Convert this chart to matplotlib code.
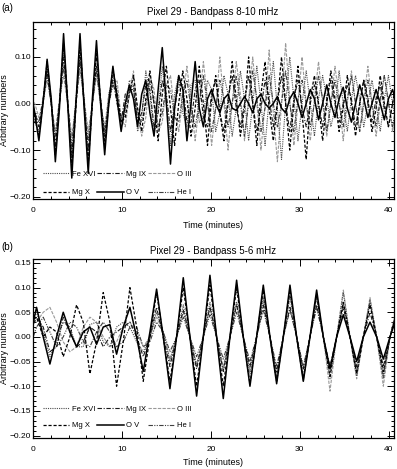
import numpy as np
import matplotlib
matplotlib.use("Agg")
import matplotlib.pyplot as plt
from matplotlib.ticker import MultipleLocator, FuncFormatter

# ---------------- data ----------------
# regular sampling grids (minutes)
time_a = np.round(np.arange(90) * 0.4625 - 0.2625, 4)
time_b = np.round(np.arange(56) * 0.75 - 0.35, 4)

# Panel (a): Pixel 29 - Bandpass 8-10 mHz
fe16_a = [0.00, -0.04, -0.06, 0.01,
          0.080, 0.01, -0.100, 0.00,
          0.120, 0.00, -0.120, 0.00,
          0.120, 0.01, -0.120, 0.00,
          0.100, 0.00, -0.080, 0.02,
          0.060, 0.03, -0.050, -0.02,
          0.050, 0.04, -0.060, -0.03,
          0.070, 0.02, -0.070, -0.01,
          0.080, 0.00, -0.090, 0.02,
          0.060, -0.02, -0.050, 0.04,
          0.050, -0.04, -0.030, 0.05,
          0.030, -0.06, -0.020, 0.06,
          0.020, -0.07, -0.010, 0.07,
          0.010, -0.08, 0.000, 0.08,
          0.000, -0.09, 0.010, 0.09,
          -0.010, -0.12, 0.000, 0.10,
          0.010, -0.08, 0.000, 0.07,
          0.000, -0.07, 0.010, 0.06,
          0.010, -0.05, -0.010, 0.07,
          0.000, -0.06, 0.010, 0.06,
          0.010, -0.05, 0.000, 0.05,
          0.000, -0.06, 0.010, 0.06,
          0.000, -0.05]
mg9_a = [0.01, -0.02, -0.05, 0.00,
         0.070, 0.00, -0.090, 0.00,
         0.100, 0.00, -0.110, 0.00,
         0.100, 0.00, -0.100, 0.00,
         0.080, 0.01, -0.070, 0.00,
         0.050, 0.00, -0.040, 0.02,
         0.030, 0.03, -0.040, -0.02,
         0.040, 0.03, -0.050, -0.02,
         0.050, 0.02, -0.060, -0.01,
         0.040, 0.04, -0.040, -0.04,
         0.030, 0.05, -0.030, -0.05,
         0.020, 0.05, -0.020, -0.06,
         0.010, 0.06, -0.010, -0.05,
         0.000, 0.06, 0.000, -0.06,
         -0.010, 0.05, 0.010, -0.05,
         0.000, 0.06, 0.000, -0.06,
         0.010, 0.05, -0.010, -0.05,
         0.000, 0.04, 0.000, -0.05,
         0.010, 0.05, 0.000, -0.04,
         0.000, 0.04, 0.010, -0.05,
         0.000, 0.05, 0.000, -0.04,
         0.010, 0.04, -0.010, -0.05,
         0.000, 0.04]
o3_a = [0.01, 0.00, -0.03, 0.00,
        0.050, 0.00, -0.060, 0.01,
        0.060, 0.00, -0.070, 0.00,
        0.070, 0.01, -0.060, 0.00,
        0.060, 0.00, -0.050, 0.02,
        0.040, 0.05, -0.030, -0.05,
        0.020, 0.07, -0.020, -0.07,
        -0.030, 0.06, 0.030, -0.06,
        -0.040, 0.04, 0.060, -0.02,
        -0.060, 0.01, 0.080, 0.00,
        -0.080, 0.00, 0.090, 0.01,
        -0.090, -0.01, 0.100, 0.00,
        -0.100, 0.00, 0.090, 0.02,
        -0.080, 0.01, 0.100, 0.00,
        -0.100, 0.00, 0.115, -0.02,
        -0.125, 0.00, 0.130, 0.01,
        -0.090, 0.00, 0.100, 0.00,
        -0.080, 0.01, 0.090, 0.00,
        -0.070, 0.00, 0.080, 0.01,
        -0.080, 0.00, 0.070, 0.00,
        -0.060, 0.01, 0.080, 0.00,
        -0.070, 0.00, 0.060, 0.01,
        -0.060, 0.00]
mg10_a = [0.02, -0.03, -0.07, 0.00,
          0.090, 0.00, -0.110, 0.00,
          0.130, 0.01, -0.140, -0.01,
          0.130, 0.00, -0.130, 0.00,
          0.110, 0.01, -0.090, 0.00,
          0.075, 0.02, -0.040, -0.03,
          0.020, 0.060, -0.010, -0.060,
          0.010, 0.070, 0.000, -0.080,
          0.020, 0.080, -0.010, -0.090,
          0.000, 0.070, 0.010, -0.070,
          -0.010, 0.080, 0.000, -0.090,
          0.010, 0.060, -0.020, -0.080,
          0.000, 0.090, 0.010, -0.070,
          -0.010, 0.100, 0.000, -0.090,
          0.020, 0.090, -0.010, -0.080,
          0.000, 0.100, 0.000, -0.100,
          0.000, 0.080, -0.020, -0.120,
          0.010, 0.060, 0.000, -0.080,
          0.000, 0.070, 0.010, -0.060,
          -0.010, 0.060, 0.000, -0.070,
          0.000, 0.050, 0.010, -0.060,
          -0.010, 0.060, 0.000, -0.050,
          0.000, 0.050]
o5_a = [0.03, -0.02, -0.08, 0.00,
        0.095, 0.01, -0.125, -0.01,
        0.150, 0.00, -0.160, 0.00,
        0.150, -0.01, -0.150, 0.01,
        0.135, 0.00, -0.110, 0.00,
        0.080, 0.01, -0.060, 0.00,
        0.040, 0.01, -0.050, 0.02,
        0.050, -0.02, -0.070, 0.03,
        0.120, 0.00, -0.130, -0.01,
        0.060, 0.03, -0.080, 0.00,
        0.090, -0.01, -0.050, 0.01,
        0.030, 0.00, -0.020, 0.01,
        0.020, -0.01, -0.015, 0.00,
        0.015, 0.00, -0.020, 0.01,
        0.020, 0.00, -0.010, 0.00,
        0.015, -0.01, -0.020, 0.01,
        0.025, 0.00, -0.030, 0.00,
        0.030, 0.01, -0.035, 0.00,
        0.040, 0.00, -0.030, 0.01,
        0.035, -0.01, -0.040, 0.00,
        0.040, 0.01, -0.030, 0.00,
        0.030, 0.00, -0.035, 0.01,
        0.030, 0.00]
he1_a = [0.00, -0.02, -0.04, 0.01,
         0.060, 0.00, -0.070, 0.00,
         0.080, 0.00, -0.090, 0.01,
         0.090, 0.00, -0.080, 0.00,
         0.070, 0.00, -0.060, 0.00,
         0.040, 0.02, -0.030, -0.01,
         0.030, 0.04, -0.030, -0.04,
         0.000, 0.05, 0.000, -0.05,
         -0.020, 0.04, 0.030, -0.03,
         -0.040, 0.02, 0.050, -0.01,
         -0.050, 0.00, 0.060, 0.00,
         -0.060, -0.01, 0.050, 0.01,
         -0.050, 0.00, 0.060, 0.00,
         -0.070, 0.00, 0.070, 0.01,
         -0.060, -0.01, 0.060, 0.00,
         -0.050, 0.00, 0.070, 0.00,
         -0.060, 0.01, 0.050, 0.00,
         -0.050, 0.00, 0.060, 0.01,
         -0.060, 0.00, 0.050, 0.00,
         -0.050, 0.01, 0.060, 0.00,
         -0.060, 0.00, 0.050, 0.00,
         -0.050, 0.01, 0.060, 0.00,
         -0.050, 0.00]

# Panel (b): Pixel 29 - Bandpass 5-6 mHz
fe16_b = [0.02, 0.05, 0.01, -0.04, -0.01, 0.03, 0.02, -0.02,
          -0.02, 0.025, 0.03, -0.01, -0.02, 0.02, 0.03, 0.02,
          -0.01, -0.03, 0.00, 0.05, 0.01, -0.05, 0.00, 0.065,
          0.00, -0.06, 0.00, 0.07, 0.00, -0.07, 0.00, 0.07,
          0.00, -0.075, 0.00, 0.08, 0.00, -0.08, 0.00, 0.085,
          0.00, -0.08, 0.00, 0.08, 0.00, -0.085, 0.00, 0.09,
          0.00, -0.08, 0.00, 0.075, 0.00, -0.085, 0.00, 0.05]
mg9_b = [0.01, 0.04, 0.02, -0.03, -0.02, 0.04, 0.01, -0.02,
         -0.01, 0.02, 0.01, -0.02, 0.00, 0.01, 0.02, 0.03,
         0.00, -0.04, 0.00, 0.06, 0.00, -0.06, 0.00, 0.055,
         0.00, -0.065, 0.00, 0.06, 0.00, -0.07, 0.00, 0.065,
         0.00, -0.06, 0.00, 0.065, 0.00, -0.07, 0.00, 0.06,
         0.00, -0.065, 0.00, 0.065, 0.00, -0.06, 0.00, 0.06,
         0.00, -0.06, 0.00, 0.05, 0.00, -0.06, 0.00, 0.045]
o3_b = [0.04, 0.03, 0.05, 0.06, 0.03, -0.01, -0.03, -0.02,
        0.02, 0.04, 0.03, 0.00, -0.02, -0.01, 0.02, 0.03,
        0.01, -0.02, 0.00, 0.04, 0.01, -0.045, 0.00, 0.05,
        0.00, -0.055, 0.00, 0.06, 0.00, -0.06, 0.00, 0.07,
        0.00, -0.07, 0.00, 0.075, 0.00, -0.08, 0.00, 0.08,
        0.00, -0.09, 0.00, 0.085, 0.00, -0.11, 0.00, 0.095,
        0.00, -0.085, 0.00, 0.08, 0.00, -0.10, 0.00, 0.06]
mg10_b = [0.03, 0.04, 0.00, 0.02, 0.01, -0.04, 0.00, 0.065,
          0.03, -0.075, -0.01, 0.09, 0.03, -0.10, -0.01, 0.10,
          0.02, -0.09, 0.00, 0.09, 0.00, -0.09, 0.00, 0.10,
          0.00, -0.10, 0.00, 0.105, 0.00, -0.10, 0.00, 0.10,
          0.00, -0.095, 0.00, 0.095, 0.00, -0.09, 0.00, 0.095,
          0.00, -0.085, 0.00, 0.085, 0.00, -0.08, 0.00, 0.07,
          0.00, -0.075, 0.00, 0.065, 0.00, -0.07, 0.00, 0.05]
o5_b = [0.00, 0.060, 0.00, -0.055, 0.00, 0.050, 0.01, -0.020,
        0.01, 0.020, -0.015, 0.020, 0.025, -0.035, 0.020, 0.060,
        0.00, -0.070, 0.01, 0.097, 0.00, -0.105, 0.00, 0.120,
        0.00, -0.120, 0.00, 0.125, 0.00, -0.125, 0.00, 0.115,
        0.00, -0.100, 0.00, 0.105, 0.00, -0.095, 0.00, 0.105,
        0.00, -0.090, 0.00, 0.095, 0.00, -0.065, 0.00, 0.045,
        0.00, -0.050, 0.00, 0.030, 0.00, -0.045, 0.00, 0.040]
he1_b = [-0.02, 0.02, 0.04, 0.01, -0.02, 0.00, 0.03, 0.02,
         -0.01, -0.02, 0.01, 0.03, 0.01, -0.02, -0.01, 0.02,
         0.02, -0.02, -0.01, 0.03, 0.01, -0.03, 0.00, 0.04,
         0.00, -0.04, 0.00, 0.045, 0.00, -0.045, 0.00, 0.05,
         0.00, -0.05, 0.00, 0.055, 0.00, -0.06, 0.00, 0.055,
         0.00, -0.06, 0.00, 0.06, 0.00, -0.065, 0.00, 0.07,
         0.00, -0.07, 0.00, 0.07, 0.00, -0.08, 0.00, 0.055]

ions = ['Fe XVI', 'Mg IX', 'O III', 'Mg X', 'O V', 'He I']
series_a = [fe16_a, mg9_a, o3_a, mg10_a, o5_a, he1_a]
series_b = [fe16_b, mg9_b, o3_b, mg10_b, o5_b, he1_b]
titles = ['Pixel 29 - Bandpass 8-10 mHz', 'Pixel 29 - Bandpass 5-6 mHz']
panel_tags = ['(a)', '(b)']
x_ticks = [0, 10, 20, 30, 40]

# ---------------- style ----------------
styles = {
    'Fe XVI': dict(color='0.30', ls=(0, (1, 1)), lw=0.8),
    'Mg IX': dict(color='0.10', ls=(0, (4, 1.5, 1, 1.5)), lw=0.8),
    'O III': dict(color='0.60', ls=(0, (3, 1.2)), lw=0.8),
    'Mg X': dict(color='black', ls=(0, (2.5, 1.5)), lw=0.9),
    'O V': dict(color='black', ls='-', lw=1.1),
    'He I': dict(color='0.25', ls=(0, (4, 1.2, 1, 1.2, 1, 1.2)), lw=0.8),
}
draw_order = ['O III', 'Fe XVI', 'He I', 'Mg IX', 'Mg X', 'O V']

plt.rcParams['font.family'] = ['Liberation Sans', 'DejaVu Sans']
FS_TICK = 6.0
FS_LEG = 5.5
FS_TXT = 6.5
FS_TITLE = 7.0

W, H = 397, 469
fig = plt.figure(figsize=(W / 100, H / 100), dpi=100)

ax_a = fig.add_axes([33 / W, 1 - 199 / H, 361 / W, 177 / H])
ax_b = fig.add_axes([33 / W, 1 - 438 / H, 361 / W, 179 / H])


def yfmt(v, p):
    s = f"{v:.2f}"
    if s == "-0.00":
        s = "0.00"
    return s.replace('-', '\u2212')


panels = [
    (ax_a, time_a, series_a, (-0.205, 0.175), 0.10, 0.02, 0.015, 1.5),
    (ax_b, time_b, series_b, (-0.205, 0.158), 0.05, 0.01, 0.048, 1.2),
]
legend_cols = [['Fe XVI', 'Mg X'], ['Mg IX', 'O V'], ['O III', 'He I']]
legend_x = [0.027, 0.177, 0.319]

for ax, t, series, ylim, ymaj, ymin, leg_y, lspace in panels:
    handles = {}
    data = dict(zip(ions, series))
    for name in draw_order:
        vals = np.asarray(data[name])
        assert len(vals) == len(t)
        (ln,) = ax.plot(t, vals, label=name, **styles[name])
        handles[name] = ln
    ax.set_xlim(0, 40.6)
    ax.set_ylim(*ylim)
    ax.set_xticks(x_ticks)
    ax.xaxis.set_minor_locator(MultipleLocator(2))
    ax.yaxis.set_major_locator(MultipleLocator(ymaj))
    ax.yaxis.set_minor_locator(MultipleLocator(ymin))
    ax.yaxis.set_major_formatter(FuncFormatter(yfmt))
    ax.tick_params(which='both', direction='in', top=True, right=True,
                   labelsize=FS_TICK, width=0.7)
    ax.tick_params(which='major', length=5)
    ax.tick_params(which='minor', length=2.5)
    ax.tick_params(axis='x', pad=6)
    ax.tick_params(axis='y', pad=1.5)
    for sp in ax.spines.values():
        sp.set_linewidth(0.9)
    for i, (col, lx) in enumerate(zip(legend_cols, legend_x)):
        leg = ax.legend([handles[n] for n in col], col, loc='lower left',
                        bbox_to_anchor=(lx, leg_y), frameon=False,
                        fontsize=FS_LEG, handlelength=3.5,
                        handletextpad=0.3, borderpad=0, borderaxespad=0,
                        labelspacing=lspace)
        if i < len(legend_cols) - 1:
            ax.add_artist(leg)

# texts
title_y = [12, 251]
tag_y = [8, 247]
xlabel_y = [226, 462]
ylabel_y = [110, 348]
for k in range(2):
    fig.text(213 / W, 1 - title_y[k] / H, titles[k], ha='center',
             va='center', fontsize=FS_TITLE)
    fig.text(1 / W, 1 - tag_y[k] / H, panel_tags[k], ha='left',
             va='center', fontsize=FS_TITLE)
    fig.text(213 / W, 1 - xlabel_y[k] / H, 'Time (minutes)', ha='center',
             va='center', fontsize=FS_TXT)
    fig.text(5 / W, 1 - ylabel_y[k] / H, 'Arbitrary numbers', ha='center',
             va='center', rotation=90, fontsize=FS_TXT)

fig.savefig('out.png', dpi=100)
